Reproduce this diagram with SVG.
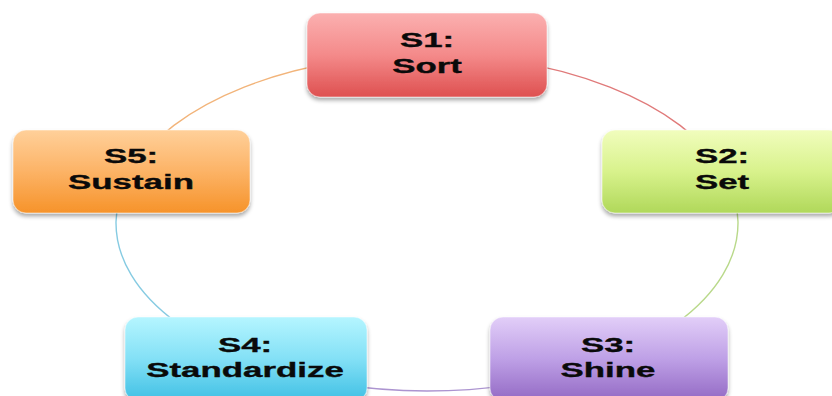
<svg xmlns="http://www.w3.org/2000/svg" width="832" height="396" viewBox="0 0 832 396">
  <defs>
    <linearGradient id="gRed" x1="0" y1="0" x2="0" y2="1">
      <stop offset="0" stop-color="#fbb0b0"/>
      <stop offset="0.5" stop-color="#f48a8a"/>
      <stop offset="1" stop-color="#de5050"/>
    </linearGradient>
    <linearGradient id="gGreen" x1="0" y1="0" x2="0" y2="1">
      <stop offset="0" stop-color="#f1fdbd"/>
      <stop offset="0.5" stop-color="#d8f28c"/>
      <stop offset="1" stop-color="#b0d85a"/>
    </linearGradient>
    <linearGradient id="gPurple" x1="0" y1="0" x2="0" y2="1">
      <stop offset="0" stop-color="#e2cef8"/>
      <stop offset="0.5" stop-color="#bea0e6"/>
      <stop offset="1" stop-color="#9369c4"/>
    </linearGradient>
    <linearGradient id="gCyan" x1="0" y1="0" x2="0" y2="1">
      <stop offset="0" stop-color="#b5f5ff"/>
      <stop offset="0.5" stop-color="#83e0f6"/>
      <stop offset="1" stop-color="#40c0e4"/>
    </linearGradient>
    <linearGradient id="gOrange" x1="0" y1="0" x2="0" y2="1">
      <stop offset="0" stop-color="#ffd09a"/>
      <stop offset="0.5" stop-color="#fcb366"/>
      <stop offset="1" stop-color="#f6932a"/>
    </linearGradient>
    <filter id="shadow" x="-10%" y="-10%" width="120%" height="130%">
      <feGaussianBlur in="SourceAlpha" stdDeviation="2"/>
      <feOffset dx="0" dy="3" result="b"/>
      <feComponentTransfer><feFuncA type="linear" slope="0.35"/></feComponentTransfer>
      <feMerge><feMergeNode/><feMergeNode in="SourceGraphic"/></feMerge>
    </filter>
  </defs>
  <style>
    .arc { fill: none; stroke-width: 1.4; }
    .box { stroke: rgba(255,255,255,0.5); stroke-width: 1; filter: url(#shadow); }
    .lbl { font-family: "Liberation Sans", Arial, sans-serif; font-weight: bold; font-size: 21px; fill: #0a0a0a; stroke: #0a0a0a; stroke-width: 0.35; text-anchor: middle; }
  </style>
  <rect width="832" height="396" fill="#ffffff"/>

  <!-- ring segments between the steps -->
  <g id="connectors">
    <path class="arc" stroke="#e07a7a" d="M427 55 A311 168 0 0 1 722.8 171.1"/>
    <path class="arc" stroke="#b9d98a" d="M722.8 171.1 A311 168 0 0 1 609.8 358.9"/>
    <path class="arc" stroke="#ac94d0" d="M609.8 358.9 A311 168 0 0 1 244.2 358.9"/>
    <path class="arc" stroke="#86cbe2" d="M244.2 358.9 A311 168 0 0 1 131.2 171.1"/>
    <path class="arc" stroke="#f2b47a" d="M131.2 171.1 A311 168 0 0 1 427 55"/>
  </g>

  <g id="s1">
    <rect class="box" x="307" y="13" width="240" height="84" rx="13" fill="url(#gRed)"/>
    <g transform="translate(427 0) scale(1.66 1)">
      <text class="lbl" x="0" y="47">S1:</text>
      <text class="lbl" x="0" y="73">Sort</text>
    </g>
  </g>

  <g id="s2">
    <rect class="box" x="602" y="130" width="240" height="83" rx="13" fill="url(#gGreen)"/>
    <g transform="translate(722 0) scale(1.66 1)">
      <text class="lbl" x="0" y="163">S2:</text>
      <text class="lbl" x="0" y="189">Set</text>
    </g>
  </g>

  <g id="s3">
    <rect class="box" x="490" y="317" width="238" height="84" rx="13" fill="url(#gPurple)"/>
    <g transform="translate(608 0) scale(1.66 1)">
      <text class="lbl" x="0" y="352">S3:</text>
      <text class="lbl" x="0" y="377">Shine</text>
    </g>
  </g>

  <g id="s4">
    <rect class="box" x="125" y="317" width="242" height="84" rx="13" fill="url(#gCyan)"/>
    <g transform="translate(245 0) scale(1.66 1)">
      <text class="lbl" x="0" y="352">S4:</text>
      <text class="lbl" x="0" y="377">Standardize</text>
    </g>
  </g>

  <g id="s5">
    <rect class="box" x="13" y="130" width="237" height="83" rx="13" fill="url(#gOrange)"/>
    <g transform="translate(131 0) scale(1.66 1)">
      <text class="lbl" x="0" y="163">S5:</text>
      <text class="lbl" x="0" y="189">Sustain</text>
    </g>
  </g>
</svg>
